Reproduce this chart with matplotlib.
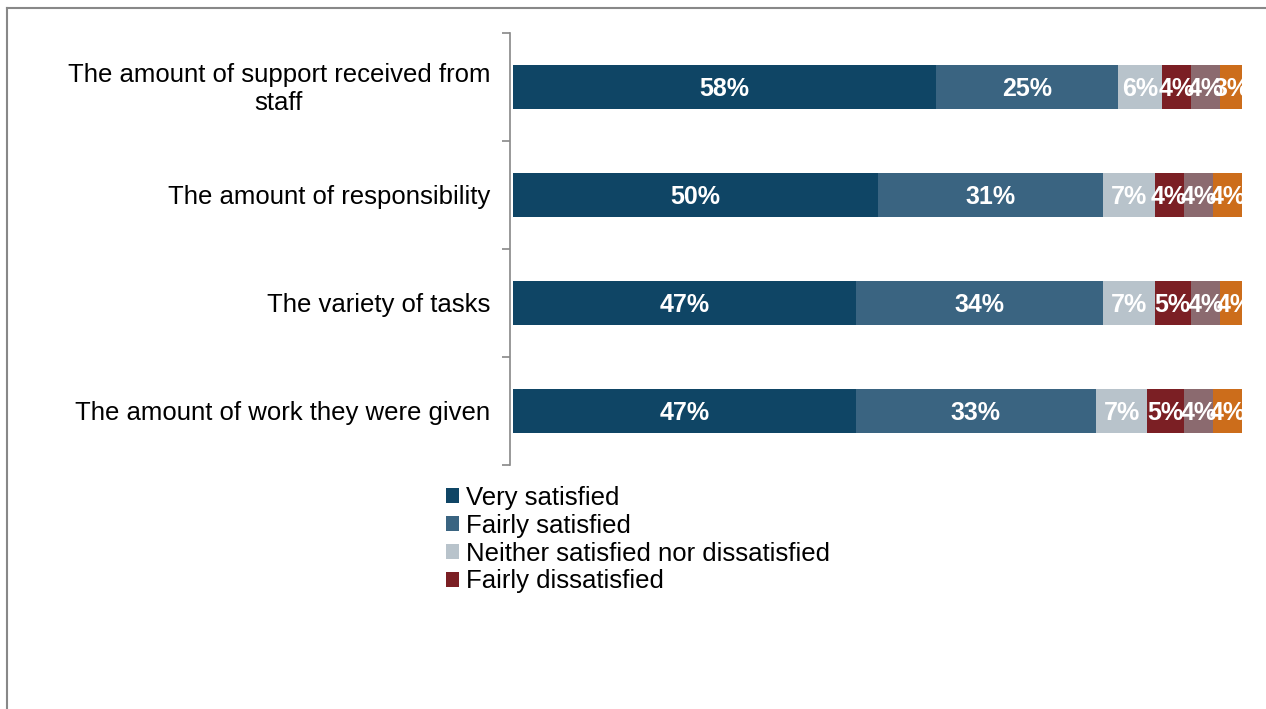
import matplotlib.pyplot as plt
from matplotlib.lines import Line2D
from matplotlib.transforms import blended_transform_factory, ScaledTranslation

plt.rcParams['font.family'] = ['Liberation Sans', 'DejaVu Sans']

categories = ['The amount of support received from\nstaff',
              'The amount of responsibility',
              'The variety of tasks',
              'The amount of work they were given']
series_names = ['Very satisfied', 'Fairly satisfied',
                'Neither satisfied nor dissatisfied', 'Fairly dissatisfied',
                'Very dissatisfied', "Don't know"]
very_sat = [58, 50, 47, 47]
fairly_sat = [25, 31, 34, 33]
neither = [6, 7, 7, 7]
fairly_dis = [4, 4, 5, 5]
very_dis = [4, 4, 4, 4]
dont_know = [3, 4, 4, 4]
colors = ['#0f4565', '#3a6481', '#b8c3cb', '#7b1f24', '#8b6a6f', '#cc6d1b']

values = [very_sat, fairly_sat, neither, fairly_dis, very_dis, dont_know]

fig = plt.figure(figsize=(12.66, 7.09), dpi=100)
ax = fig.add_axes([513 / 1266, 1 - 465 / 709, 729 / 1266, 432 / 709])

ypos = list(range(len(categories)))
left = [0] * len(categories)
handles = []
for name, vals, col in zip(series_names, values, colors):
    bars = ax.barh(ypos, vals, left=left, height=0.4, color=col, label=name)
    handles.append(bars)
    for y, v, l in zip(ypos, vals, left):
        t = ax.text(l + v / 2, y + 0.02, f'{v}%', ha='center', va='center',
                    color='white', fontsize=18, fontweight='bold')
        t.set_clip_on(True)
    left = [a + b for a, b in zip(left, vals)]

ax.set_xlim(0, 100)
ax.set_ylim(3.5, -0.5)
ax.set_yticks(ypos)
ax.set_yticklabels([])
ax.tick_params(axis='y', which='major', length=0)
ax.set_yticks([-0.5, 0.5, 1.5, 2.5, 3.5], minor=True)
ax.tick_params(axis='y', which='minor', length=6, color='#888888', width=1.2)
ax.set_xticks([])
for s in ['top', 'right', 'bottom']:
    ax.spines[s].set_visible(False)
ax.spines['left'].set_color('#888888')
ax.spines['left'].set_linewidth(1.2)
ax.spines['left'].set_position(('outward', 2))

# category labels, right aligned, multi-line centred
trans = blended_transform_factory(ax.transAxes, ax.transData) + \
    ScaledTranslation(-23 / 100, -2 / 100, fig.dpi_scale_trans)
for y, cat in zip(ypos, categories):
    ax.text(0, y, cat, transform=trans, ha='right', va='center',
            multialignment='center', fontsize=18.5, linespacing=1.2)

fig.legend(handles[:4], series_names[:4], loc='upper left',
           bbox_to_anchor=(433 / 1266, 1 - 473 / 709), frameon=False,
           fontsize=18.5, handlelength=0.5, handleheight=0.5,
           handletextpad=0.3, labelspacing=0.15, borderpad=0)

# outer frame (partially visible)
fig.add_artist(Line2D([7 / 1266, 1], [1 - 8 / 709, 1 - 8 / 709],
                      color='#888888', lw=1.5, transform=fig.transFigure))
fig.add_artist(Line2D([7 / 1266, 7 / 1266], [0, 1 - 8 / 709],
                      color='#888888', lw=1.5, transform=fig.transFigure))

fig.savefig('out.png', dpi=100)
